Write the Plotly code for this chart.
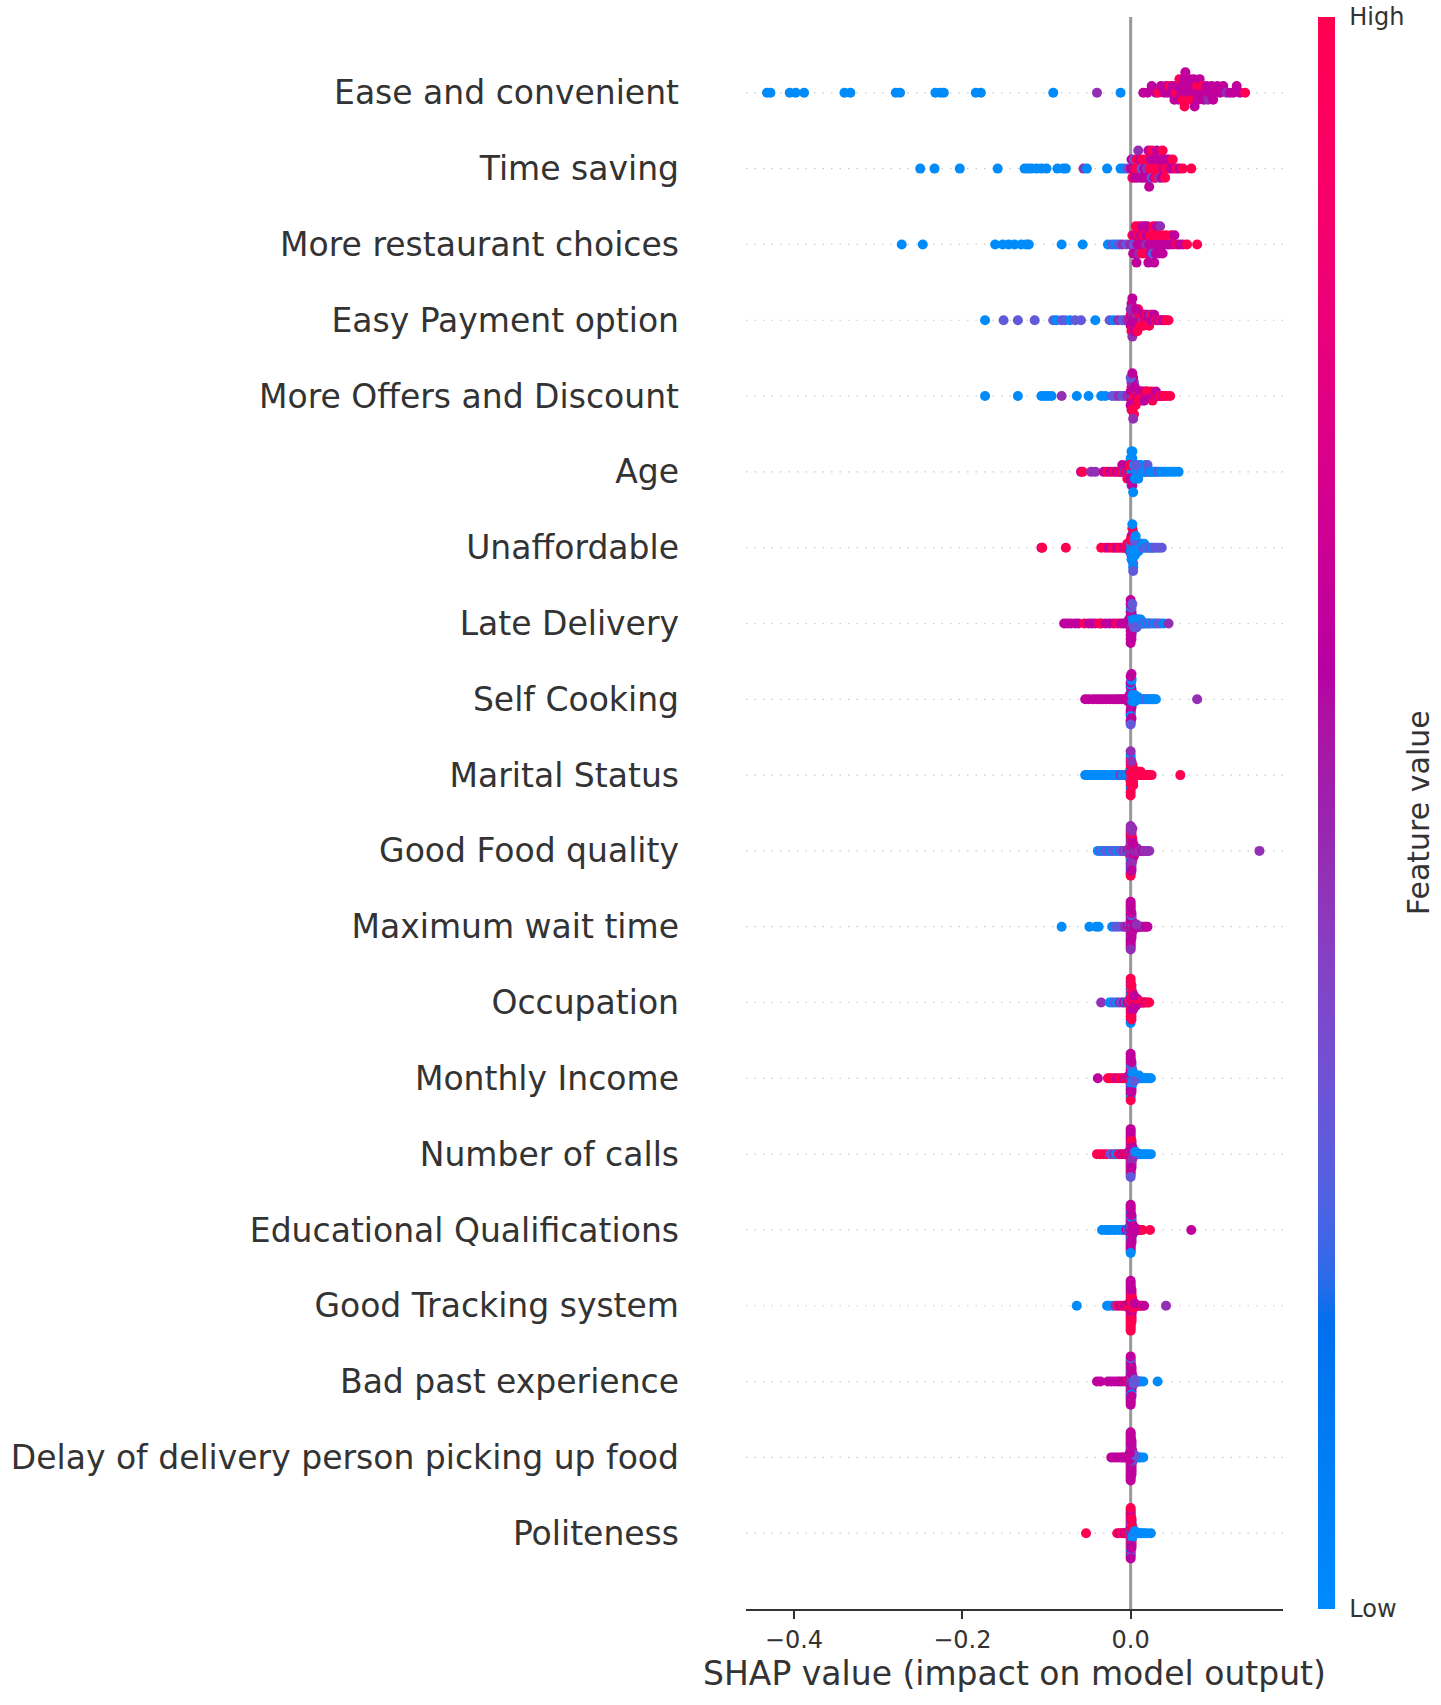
import numpy as np
import plotly.graph_objects as go

# feature names, top (most important) to bottom
features = [
    "Ease and convenient", "Time saving", "More restaurant choices",
    "Easy Payment option", "More Offers and Discount", "Age", "Unaffordable",
    "Late Delivery", "Self Cooking", "Marital Status", "Good Food quality",
    "Maximum wait time", "Occupation", "Monthly Income", "Number of calls",
    "Educational Qualifications", "Good Tracking system", "Bad past experience",
    "Delay of delivery person picking up food", "Politeness",
]

# (shap value, feature level 1=low .. 5=high)
ease = [(-0.432, 1), (-0.428, 1), (-0.405, 1), (-0.398, 1), (-0.388, 1), (-0.340, 1), (-0.333, 1),
        (-0.279, 1), (-0.274, 1), (-0.232, 1), (-0.226, 1), (-0.222, 1), (-0.184, 1), (-0.178, 1),
        (-0.092, 1), (-0.040, 3), (-0.012, 1),
        (0.015, 4), (0.020, 4), (0.025, 4), (0.030, 4), (0.033, 5), (0.036, 4), (0.040, 4),
        (0.042, 4), (0.044, 4), (0.046, 5), (0.048, 4), (0.050, 4), (0.052, 4), (0.054, 5),
        (0.055, 4), (0.057, 4), (0.058, 5), (0.060, 4), (0.061, 4), (0.062, 5), (0.063, 4),
        (0.064, 5), (0.065, 4), (0.066, 4), (0.067, 4), (0.068, 5), (0.070, 4), (0.071, 4),
        (0.072, 4), (0.074, 5), (0.075, 4), (0.076, 4), (0.078, 4), (0.079, 5), (0.080, 4),
        (0.082, 4), (0.083, 4), (0.085, 5), (0.087, 4), (0.088, 4), (0.090, 4), (0.092, 3),
        (0.094, 4), (0.096, 4), (0.098, 4), (0.100, 4), (0.103, 4), (0.106, 4), (0.110, 4),
        (0.114, 3), (0.118, 4), (0.122, 4), (0.126, 4), (0.130, 4), (0.136, 5)]

time_saving = [(-0.250, 1), (-0.233, 1), (-0.203, 1), (-0.158, 1), (-0.126, 1), (-0.122, 1),
               (-0.118, 1), (-0.112, 1), (-0.106, 1), (-0.100, 1), (-0.087, 1), (-0.080, 1),
               (-0.077, 1), (-0.056, 3), (-0.052, 1), (-0.028, 1), (-0.012, 1), (-0.008, 1),
               (-0.004, 2), (0.000, 4), (0.001, 4), (0.002, 5), (0.003, 4), (0.004, 2),
               (0.005, 4), (0.006, 5), (0.007, 5), (0.008, 4), (0.009, 3), (0.010, 5),
               (0.011, 4), (0.012, 4), (0.013, 2), (0.014, 5), (0.015, 4), (0.016, 4),
               (0.017, 5), (0.018, 4), (0.019, 3), (0.020, 5), (0.020, 4), (0.021, 4),
               (0.022, 4), (0.023, 5), (0.024, 4), (0.025, 2), (0.025, 5), (0.026, 5),
               (0.027, 4), (0.028, 4), (0.029, 5), (0.030, 4), (0.030, 5), (0.031, 4),
               (0.032, 5), (0.033, 4), (0.034, 3), (0.035, 5), (0.036, 4), (0.037, 4),
               (0.038, 5), (0.039, 4), (0.040, 4), (0.041, 5), (0.042, 5), (0.043, 4),
               (0.045, 5), (0.046, 4), (0.048, 4), (0.050, 5), (0.052, 4), (0.055, 5),
               (0.058, 4), (0.062, 5), (0.072, 5)]

restaurant_choices = [(-0.272, 1), (-0.247, 1), (-0.161, 1), (-0.152, 1), (-0.145, 1),
                      (-0.138, 1), (-0.130, 1), (-0.124, 1), (-0.121, 1), (-0.082, 1),
                      (-0.057, 1), (-0.027, 1), (-0.022, 2), (-0.018, 1), (-0.014, 2),
                      (-0.010, 3), (-0.005, 2), (0.000, 4), (0.001, 3), (0.002, 5),
                      (0.003, 4), (0.004, 2), (0.005, 4), (0.005, 4), (0.006, 5), (0.007, 4),
                      (0.008, 4), (0.009, 5), (0.010, 3), (0.010, 5), (0.011, 4), (0.012, 4),
                      (0.013, 5), (0.014, 4), (0.015, 4), (0.015, 5), (0.016, 5), (0.017, 4),
                      (0.018, 3), (0.019, 4), (0.020, 5), (0.020, 4), (0.021, 4), (0.022, 4),
                      (0.023, 5), (0.024, 4), (0.025, 4), (0.025, 5), (0.026, 2), (0.027, 5),
                      (0.028, 4), (0.029, 4), (0.030, 5), (0.030, 4), (0.031, 4), (0.032, 4),
                      (0.033, 5), (0.034, 4), (0.035, 3), (0.036, 4), (0.037, 5), (0.038, 4),
                      (0.040, 4), (0.042, 5), (0.044, 4), (0.046, 4), (0.048, 5), (0.050, 4),
                      (0.052, 4), (0.055, 5), (0.058, 4), (0.062, 4), (0.067, 5), (0.079, 5)]

easy_payment = [(-0.173, 1), (-0.151, 2), (-0.134, 2), (-0.114, 2), (-0.092, 2), (-0.088, 1),
                (-0.082, 2), (-0.078, 2), (-0.072, 1), (-0.066, 2), (-0.059, 2), (-0.042, 1),
                (-0.025, 2), (-0.020, 1), (-0.015, 3), (-0.010, 2), (-0.007, 2), (-0.004, 3),
                (0.000, 4), (0.000, 5), (0.001, 3), (0.001, 4), (0.002, 5), (0.002, 4),
                (0.003, 4), (0.003, 3), (0.004, 5), (0.005, 4), (0.005, 4), (0.006, 5),
                (0.007, 4), (0.007, 3), (0.008, 4), (0.009, 5), (0.010, 4), (0.010, 5),
                (0.011, 4), (0.012, 4), (0.013, 5), (0.014, 3), (0.015, 4), (0.016, 5),
                (0.017, 4), (0.018, 4), (0.019, 5), (0.020, 4), (0.021, 4), (0.022, 5),
                (0.023, 4), (0.024, 3), (0.025, 4), (0.026, 5), (0.027, 4), (0.028, 4),
                (0.030, 5), (0.032, 4), (0.034, 4), (0.036, 5), (0.038, 4), (0.040, 4),
                (0.042, 5), (0.045, 5),
                (0.000, 4), (0.001, 5), (0.001, 4), (0.002, 3), (0.003, 5), (0.004, 4),
                (0.000, 3), (0.002, 4), (0.006, 4), (0.008, 5), (0.012, 5), (0.015, 5)]

offers_discount = [(-0.173, 1), (-0.134, 1), (-0.106, 1), (-0.102, 1), (-0.098, 1), (-0.094, 1),
                   (-0.082, 3), (-0.064, 1), (-0.050, 1), (-0.035, 1), (-0.030, 1), (-0.022, 2),
                   (-0.018, 2), (-0.014, 3), (-0.010, 2), (-0.007, 2), (-0.004, 3), (0.000, 3),
                   (0.000, 4), (0.001, 4), (0.001, 5), (0.002, 3), (0.002, 4), (0.003, 5),
                   (0.003, 4), (0.004, 4), (0.004, 2), (0.005, 5), (0.005, 4), (0.006, 4),
                   (0.007, 5), (0.008, 3), (0.009, 4), (0.010, 5), (0.011, 4), (0.012, 4),
                   (0.013, 5), (0.014, 4), (0.015, 3), (0.016, 5), (0.017, 4), (0.018, 4),
                   (0.019, 5), (0.020, 4), (0.020, 5), (0.022, 5), (0.024, 4), (0.025, 5),
                   (0.026, 5), (0.028, 4), (0.030, 5), (0.030, 4), (0.032, 4), (0.034, 5),
                   (0.036, 5), (0.038, 4), (0.040, 5), (0.043, 5), (0.047, 5),
                   (0.000, 4), (0.001, 3), (0.001, 4), (0.002, 5), (0.003, 4), (0.004, 5),
                   (0.005, 4), (0.006, 5), (0.007, 4), (0.000, 2), (0.002, 4), (0.003, 3),
                   (0.009, 5), (0.011, 5), (0.016, 4)]

age = [(-0.059, 4), (-0.057, 5), (-0.047, 3), (-0.042, 3), (-0.032, 4), (-0.028, 5), (-0.024, 4),
       (-0.020, 5), (-0.017, 4), (-0.014, 5), (-0.012, 4), (-0.010, 5), (-0.010, 4), (-0.008, 3),
       (-0.006, 4), (-0.005, 5), (-0.004, 4), (-0.004, 5), (-0.003, 5), (-0.002, 3), (-0.001, 4),
       (0.000, 5), (0.000, 2), (0.001, 1), (0.001, 3), (0.002, 1), (0.003, 1), (0.003, 2),
       (0.004, 2), (0.005, 1), (0.005, 3), (0.006, 1), (0.007, 1), (0.008, 2), (0.008, 1),
       (0.009, 1), (0.010, 1), (0.011, 1), (0.012, 2), (0.012, 1), (0.013, 1), (0.014, 1),
       (0.015, 1), (0.016, 2), (0.017, 1), (0.018, 1), (0.020, 1), (0.020, 2), (0.022, 2),
       (0.024, 1), (0.026, 1), (0.028, 1), (0.030, 1), (0.033, 2), (0.036, 1), (0.040, 1),
       (0.044, 1), (0.048, 1), (0.052, 1), (0.057, 1),
       (0.000, 4), (0.000, 1), (0.001, 5), (0.001, 1), (0.001, 2), (0.002, 1), (0.002, 4),
       (0.002, 1), (0.001, 1), (-0.001, 5), (-0.001, 4), (0.003, 1), (0.004, 1), (0.006, 2),
       (0.009, 1), (0.005, 1)]

unaffordable = [(-0.106, 4), (-0.105, 5), (-0.077, 5), (-0.035, 5), (-0.030, 5), (-0.026, 4),
                (-0.022, 5), (-0.019, 5), (-0.016, 4), (-0.013, 5), (-0.010, 5), (-0.008, 4),
                (-0.006, 5), (-0.005, 5), (-0.004, 5), (-0.003, 4), (-0.002, 5), (-0.001, 5),
                (-0.001, 4), (0.000, 4), (0.000, 2), (0.000, 1), (0.001, 1), (0.001, 2),
                (0.001, 1), (0.002, 1), (0.002, 2), (0.003, 1), (0.003, 1), (0.004, 2),
                (0.004, 1), (0.005, 1), (0.005, 2), (0.006, 2), (0.006, 1), (0.007, 1),
                (0.007, 1), (0.008, 1), (0.009, 2), (0.009, 1), (0.010, 1), (0.010, 2),
                (0.011, 2), (0.012, 1), (0.013, 1), (0.014, 1), (0.015, 2), (0.016, 1),
                (0.018, 2), (0.020, 1), (0.022, 2), (0.024, 2), (0.026, 1), (0.028, 2),
                (0.031, 2), (0.034, 2), (0.037, 2),
                (0.001, 1), (0.001, 2), (0.002, 1), (0.002, 1), (0.002, 2), (0.003, 1),
                (0.003, 2), (0.001, 4), (0.000, 5), (0.002, 5), (0.003, 1), (0.004, 1),
                (0.002, 1), (0.001, 1), (0.005, 1), (0.003, 2), (0.004, 2), (0.006, 1)]

late_delivery = [(-0.079, 4), (-0.075, 4), (-0.071, 4), (-0.066, 4), (-0.062, 4), (-0.055, 5),
                 (-0.050, 4), (-0.046, 4), (-0.042, 4), (-0.037, 5), (-0.035, 5), (-0.030, 4),
                 (-0.025, 4), (-0.020, 4), (-0.016, 5), (-0.012, 4), (-0.009, 4), (-0.006, 4),
                 (-0.004, 4), (-0.003, 4), (-0.002, 4), (-0.002, 4), (-0.001, 4), (-0.001, 4),
                 (0.000, 4), (0.000, 4), (0.000, 4), (0.000, 4), (0.001, 4), (0.001, 4),
                 (0.001, 3), (0.002, 1), (0.002, 2), (0.003, 2), (0.004, 1), (0.004, 2),
                 (0.005, 2), (0.006, 1), (0.006, 1), (0.007, 2), (0.008, 1), (0.008, 2),
                 (0.009, 2), (0.010, 1), (0.010, 2), (0.011, 2), (0.012, 1), (0.013, 1),
                 (0.014, 2), (0.015, 1), (0.017, 2), (0.019, 1), (0.021, 2), (0.023, 1),
                 (0.026, 2), (0.029, 1), (0.032, 2), (0.035, 2), (0.039, 1), (0.045, 3),
                 (0.000, 4), (0.000, 4), (0.000, 4), (0.000, 1), (0.000, 4), (0.001, 4),
                 (0.001, 4), (0.001, 2), (0.000, 4), (0.000, 4), (0.001, 4), (0.000, 4),
                 (0.002, 2), (0.003, 1), (0.004, 2)]

self_cooking = [(-0.054, 4), (-0.050, 4), (-0.045, 4), (-0.041, 4), (-0.037, 4), (-0.033, 4),
                (-0.029, 4), (-0.025, 4), (-0.021, 4), (-0.017, 4), (-0.014, 4), (-0.011, 4),
                (-0.008, 4), (-0.006, 4), (-0.004, 4), (-0.003, 4), (-0.003, 4), (-0.002, 4),
                (-0.002, 4), (-0.001, 4), (-0.001, 4), (-0.001, 4), (0.000, 4), (0.000, 4),
                (0.000, 4), (0.000, 3), (0.000, 4), (0.000, 1), (0.001, 4), (0.001, 1),
                (0.001, 4), (0.001, 4), (0.002, 1), (0.002, 4), (0.002, 1), (0.003, 1),
                (0.003, 2), (0.004, 1), (0.004, 2), (0.005, 1), (0.005, 1), (0.006, 2),
                (0.007, 1), (0.008, 1), (0.009, 1), (0.010, 2), (0.012, 1), (0.014, 1),
                (0.016, 1), (0.018, 2), (0.020, 1), (0.022, 1), (0.024, 1), (0.026, 1),
                (0.028, 1), (0.030, 1), (0.079, 3),
                (0.000, 4), (0.000, 4), (0.000, 4), (0.000, 1), (0.000, 4), (0.000, 4),
                (0.000, 1), (0.001, 1), (0.001, 4), (0.001, 1), (0.000, 4), (0.000, 4),
                (-0.001, 4), (0.000, 4), (0.001, 4), (0.002, 1), (0.003, 1), (0.000, 2)]

marital_status = [(-0.054, 1), (-0.051, 1), (-0.048, 1), (-0.045, 1), (-0.042, 1), (-0.039, 1),
                  (-0.036, 1), (-0.033, 1), (-0.030, 1), (-0.027, 1), (-0.024, 1), (-0.021, 1),
                  (-0.018, 1), (-0.015, 1), (-0.012, 3), (-0.010, 1), (-0.008, 1), (-0.006, 3),
                  (-0.005, 1), (-0.004, 1), (-0.003, 1), (-0.002, 1), (-0.001, 1), (-0.001, 5),
                  (-0.001, 1), (0.000, 1), (0.000, 5), (0.000, 5), (0.000, 1), (0.000, 5),
                  (0.001, 5), (0.001, 5), (0.001, 1), (0.001, 5), (0.002, 5), (0.002, 5),
                  (0.002, 5), (0.003, 5), (0.003, 5), (0.004, 5), (0.004, 5), (0.005, 5),
                  (0.005, 5), (0.006, 5), (0.006, 5), (0.007, 5), (0.008, 5), (0.008, 5),
                  (0.009, 5), (0.010, 5), (0.010, 5), (0.011, 5), (0.012, 5), (0.014, 5),
                  (0.016, 5), (0.018, 5), (0.020, 5), (0.022, 5), (0.025, 5), (0.059, 5),
                  (0.000, 5), (0.000, 5), (0.000, 5), (0.000, 1), (0.000, 5), (0.001, 5),
                  (0.001, 5), (0.000, 5), (0.000, 1), (0.001, 5), (0.000, 5), (0.002, 5),
                  (0.003, 5), (0.001, 3), (0.000, 3)]

food_quality = [(-0.039, 1), (-0.036, 2), (-0.033, 1), (-0.030, 2), (-0.027, 2), (-0.024, 1),
                (-0.021, 2), (-0.018, 2), (-0.015, 1), (-0.012, 2), (-0.010, 2), (-0.008, 3),
                (-0.006, 2), (-0.004, 3), (-0.003, 4), (-0.002, 3), (-0.002, 2), (-0.001, 5),
                (-0.001, 3), (-0.001, 3), (0.000, 3), (0.000, 4), (0.000, 3), (0.000, 5),
                (0.000, 3), (0.000, 1), (0.000, 3), (0.001, 3), (0.001, 4), (0.001, 3),
                (0.001, 5), (0.001, 3), (0.001, 3), (0.002, 3), (0.002, 4), (0.002, 3),
                (0.002, 5), (0.003, 3), (0.003, 4), (0.003, 3), (0.004, 3), (0.004, 4),
                (0.005, 3), (0.006, 4), (0.007, 3), (0.008, 3), (0.009, 4), (0.010, 3),
                (0.012, 3), (0.014, 4), (0.016, 3), (0.018, 3), (0.020, 3), (0.022, 3),
                (0.153, 3),
                (0.000, 3), (0.000, 5), (0.000, 3), (0.000, 4), (0.000, 3), (0.000, 5),
                (0.001, 3), (0.001, 4), (0.001, 3), (0.001, 5), (0.000, 1), (0.000, 3),
                (0.001, 3), (0.000, 4), (0.000, 3), (0.001, 3), (0.000, 5), (0.001, 4),
                (0.002, 3), (0.003, 4)]

wait_time = [(-0.082, 1), (-0.049, 1), (-0.041, 1), (-0.038, 1), (-0.022, 1), (-0.018, 2),
             (-0.014, 2), (-0.010, 2), (-0.007, 3), (-0.005, 3), (-0.003, 4), (-0.002, 3),
             (-0.001, 4), (-0.001, 2), (0.000, 4), (0.000, 3), (0.000, 4), (0.000, 4),
             (0.000, 2), (0.000, 4), (0.001, 4), (0.001, 3), (0.001, 4), (0.001, 4),
             (0.001, 5), (0.002, 4), (0.002, 3), (0.002, 4), (0.002, 4), (0.003, 4),
             (0.003, 2), (0.004, 4), (0.004, 3), (0.005, 3), (0.006, 4), (0.006, 4),
             (0.007, 4), (0.008, 3), (0.009, 4), (0.010, 4), (0.011, 2), (0.012, 4),
             (0.014, 4), (0.016, 3), (0.018, 4), (0.020, 4),
             (0.000, 4), (0.000, 3), (0.000, 4), (0.000, 4), (0.000, 2), (0.000, 4),
             (0.001, 4), (0.001, 3), (0.001, 4), (0.000, 4), (0.000, 5), (0.000, 4),
             (0.001, 4), (0.000, 3), (0.000, 4), (0.000, 4), (0.001, 2), (0.000, 4),
             (0.001, 4), (0.000, 4), (0.000, 3), (0.001, 4), (0.000, 4), (0.002, 4),
             (0.003, 3), (0.004, 4), (0.005, 4), (0.007, 3)]

occupation = [(-0.035, 3), (-0.025, 1), (-0.022, 1), (-0.019, 2), (-0.016, 1), (-0.013, 3),
              (-0.010, 2), (-0.008, 4), (-0.006, 1), (-0.004, 4), (-0.003, 5), (-0.002, 4),
              (-0.001, 5), (-0.001, 1), (0.000, 1), (0.000, 5), (0.000, 4), (0.000, 5),
              (0.001, 5), (0.001, 4), (0.001, 1), (0.001, 3), (0.002, 5), (0.002, 5),
              (0.002, 4), (0.003, 5), (0.003, 4), (0.003, 5), (0.004, 5), (0.004, 5),
              (0.005, 4), (0.005, 5), (0.006, 5), (0.006, 5), (0.007, 4), (0.008, 5),
              (0.008, 4), (0.009, 5), (0.010, 4), (0.011, 5), (0.012, 5), (0.013, 4),
              (0.014, 5), (0.015, 5), (0.016, 5), (0.018, 4), (0.020, 5), (0.022, 5),
              (0.000, 5), (0.000, 1), (0.000, 5), (0.000, 4), (0.000, 5), (0.001, 5),
              (0.001, 5), (0.001, 4), (0.000, 5), (0.000, 5), (0.001, 1), (0.000, 4),
              (0.001, 5), (0.002, 5), (0.002, 4), (0.003, 5), (0.004, 5), (0.005, 5),
              (0.006, 4), (0.007, 5), (0.000, 1), (0.001, 5), (0.002, 5), (0.003, 4),
              (0.004, 4), (0.000, 5), (0.001, 5)]

monthly_income = [(-0.039, 4), (-0.027, 5), (-0.025, 5), (-0.022, 5), (-0.019, 5), (-0.016, 4),
                  (-0.013, 5), (-0.010, 5), (-0.008, 4), (-0.006, 5), (-0.004, 4), (-0.003, 5),
                  (-0.002, 4), (-0.002, 4), (-0.001, 5), (-0.001, 4), (0.000, 4), (0.000, 5),
                  (0.000, 4), (0.000, 2), (0.000, 5), (0.001, 1), (0.001, 4), (0.001, 5),
                  (0.002, 1), (0.002, 4), (0.002, 5), (0.003, 1), (0.003, 4), (0.004, 1),
                  (0.004, 1), (0.005, 2), (0.006, 1), (0.006, 1), (0.007, 1), (0.008, 1),
                  (0.009, 2), (0.010, 1), (0.010, 1), (0.011, 1), (0.012, 1), (0.014, 1),
                  (0.016, 1), (0.018, 1), (0.020, 1), (0.022, 1), (0.024, 1),
                  (0.000, 4), (0.000, 4), (0.000, 5), (0.000, 4), (0.000, 2), (0.001, 4),
                  (0.001, 1), (0.001, 4), (0.000, 4), (0.000, 5), (0.001, 1), (0.000, 4),
                  (0.001, 2), (0.000, 4), (0.000, 1), (0.001, 4), (0.002, 1), (0.000, 4),
                  (0.001, 1), (0.002, 1), (0.003, 1), (0.000, 5), (0.001, 4), (0.002, 2),
                  (0.000, 4), (0.001, 4), (0.003, 1), (0.004, 2)]

number_of_calls = [(-0.040, 5), (-0.036, 5), (-0.032, 5), (-0.028, 5), (-0.024, 2), (-0.020, 3),
                   (-0.017, 1), (-0.014, 5), (-0.011, 4), (-0.008, 5), (-0.006, 4), (-0.004, 5),
                   (-0.003, 4), (-0.002, 5), (-0.002, 4), (-0.001, 4), (-0.001, 5), (0.000, 5),
                   (0.000, 4), (0.000, 3), (0.000, 5), (0.000, 4), (0.000, 3), (0.001, 5),
                   (0.001, 3), (0.001, 4), (0.001, 4), (0.002, 4), (0.002, 5), (0.002, 3),
                   (0.003, 3), (0.003, 4), (0.003, 5), (0.004, 2), (0.005, 4), (0.006, 3),
                   (0.007, 1), (0.009, 2), (0.011, 1), (0.014, 1), (0.017, 1), (0.020, 1),
                   (0.024, 1),
                   (0.000, 4), (0.000, 5), (0.000, 4), (0.000, 3), (0.000, 4), (0.001, 5),
                   (0.001, 4), (0.001, 3), (0.000, 5), (0.000, 4), (0.001, 4), (0.000, 4),
                   (0.001, 5), (0.000, 3), (0.000, 4), (0.001, 4), (0.000, 5), (0.002, 4),
                   (0.000, 4), (0.001, 3), (0.000, 4), (0.001, 5), (0.002, 3), (0.000, 4),
                   (0.001, 4), (0.003, 4), (0.004, 3), (0.002, 4), (0.000, 2), (0.005, 2),
                   (0.006, 1), (0.000, 4)]

education = [(-0.034, 1), (-0.030, 1), (-0.027, 1), (-0.024, 1), (-0.020, 1), (-0.017, 1),
             (-0.013, 1), (-0.010, 1), (-0.007, 1), (-0.005, 4), (-0.003, 1), (-0.002, 4),
             (-0.002, 1), (-0.001, 1), (-0.001, 4), (0.000, 4), (0.000, 1), (0.000, 4),
             (0.000, 4), (0.000, 1), (0.000, 4), (0.001, 4), (0.001, 4), (0.001, 4),
             (0.001, 1), (0.002, 4), (0.002, 1), (0.002, 4), (0.003, 4), (0.003, 4),
             (0.003, 1), (0.004, 4), (0.004, 4), (0.005, 4), (0.006, 4), (0.007, 4),
             (0.008, 4), (0.010, 4), (0.012, 4), (0.014, 5), (0.023, 5), (0.072, 4),
             (0.000, 4), (0.000, 4), (0.000, 1), (0.000, 4), (0.001, 4), (0.001, 1),
             (0.000, 4), (0.000, 4), (0.001, 4), (0.000, 1), (0.000, 4), (0.001, 4),
             (0.000, 4), (0.001, 1), (0.000, 4), (0.000, 4), (0.001, 4), (0.000, 1),
             (0.000, 4), (0.002, 4), (0.001, 4), (0.000, 4), (0.001, 1), (0.000, 4),
             (0.002, 4), (0.000, 4), (0.003, 4), (0.004, 4), (0.001, 4), (0.000, 1),
             (0.005, 4), (0.000, 4), (0.001, 4)]

tracking_system = [(-0.064, 1), (-0.028, 1), (-0.025, 1), (-0.021, 1), (-0.018, 3), (-0.015, 5),
                   (-0.012, 4), (-0.009, 5), (-0.007, 4), (-0.005, 5), (-0.004, 4), (-0.003, 5),
                   (-0.002, 4), (-0.002, 5), (-0.001, 5), (-0.001, 4), (0.000, 5), (0.000, 4),
                   (0.000, 5), (0.000, 4), (0.000, 3), (0.001, 5), (0.001, 4), (0.001, 5),
                   (0.001, 4), (0.002, 4), (0.002, 5), (0.002, 5), (0.003, 4), (0.003, 5),
                   (0.004, 4), (0.005, 5), (0.006, 4), (0.007, 5), (0.008, 4), (0.010, 5),
                   (0.012, 4), (0.014, 5), (0.016, 4), (0.042, 3),
                   (0.000, 5), (0.000, 4), (0.000, 5), (0.000, 5), (0.000, 4), (0.001, 5),
                   (0.001, 4), (0.001, 5), (0.000, 5), (0.000, 4), (0.001, 5), (0.000, 5),
                   (0.001, 4), (0.000, 3), (0.000, 5), (0.001, 5), (0.000, 4), (0.002, 5),
                   (0.000, 5), (0.001, 4), (0.000, 4), (0.001, 5), (0.002, 4), (0.000, 5),
                   (0.001, 5), (0.003, 5), (0.000, 4), (0.004, 5), (0.001, 4), (0.000, 5),
                   (0.002, 5), (0.000, 4), (0.001, 5), (0.000, 5), (0.005, 4)]

bad_experience = [(-0.040, 4), (-0.036, 4), (-0.027, 4), (-0.023, 4), (-0.019, 4), (-0.015, 4),
                  (-0.012, 4), (-0.009, 4), (-0.006, 4), (-0.004, 5), (-0.003, 4), (-0.002, 4),
                  (-0.002, 5), (-0.001, 4), (-0.001, 4), (0.000, 4), (0.000, 3), (0.000, 2),
                  (0.000, 4), (0.000, 4), (0.001, 4), (0.001, 2), (0.001, 3), (0.001, 4),
                  (0.002, 1), (0.002, 4), (0.002, 3), (0.003, 2), (0.003, 4), (0.004, 1),
                  (0.004, 2), (0.005, 3), (0.006, 2), (0.007, 1), (0.008, 2), (0.010, 1),
                  (0.012, 2), (0.015, 1), (0.032, 1),
                  (0.000, 4), (0.000, 2), (0.000, 4), (0.000, 4), (0.000, 3), (0.001, 4),
                  (0.001, 2), (0.001, 4), (0.000, 4), (0.000, 1), (0.001, 4), (0.000, 4),
                  (0.001, 3), (0.000, 4), (0.000, 2), (0.001, 4), (0.000, 4), (0.002, 2),
                  (0.000, 4), (0.001, 4), (0.000, 3), (0.001, 4), (0.002, 4), (0.000, 4),
                  (0.001, 1), (0.003, 3), (0.000, 4), (0.004, 2), (0.001, 4), (0.000, 4),
                  (0.002, 4), (0.000, 2), (0.001, 4), (0.000, 4), (0.005, 2), (0.000, 4)]

delay_pickup = [(-0.023, 4), (-0.020, 4), (-0.017, 4), (-0.014, 4), (-0.011, 4), (-0.009, 4),
                (-0.007, 4), (-0.005, 4), (-0.004, 4), (-0.003, 4), (-0.002, 4), (-0.002, 4),
                (-0.001, 4), (-0.001, 4), (0.000, 4), (0.000, 4), (0.000, 3), (0.000, 4),
                (0.000, 2), (0.000, 4), (0.001, 4), (0.001, 4), (0.001, 3), (0.001, 4),
                (0.001, 2), (0.002, 4), (0.002, 2), (0.002, 4), (0.003, 4), (0.003, 1),
                (0.004, 2), (0.005, 1), (0.006, 2), (0.008, 1), (0.010, 1), (0.012, 1),
                (0.015, 1),
                (0.000, 4), (0.000, 4), (0.000, 4), (0.000, 4), (0.000, 3), (0.001, 4),
                (0.001, 4), (0.001, 4), (0.000, 4), (0.000, 4), (0.001, 4), (0.000, 4),
                (0.001, 2), (0.000, 4), (0.000, 4), (0.001, 4), (0.000, 4), (0.002, 4),
                (0.000, 4), (0.001, 4), (0.000, 4), (0.001, 4), (0.002, 3), (0.000, 4),
                (0.001, 4), (0.003, 2), (0.000, 4), (0.004, 1), (0.001, 4), (0.000, 4),
                (0.002, 4), (-0.001, 4), (0.001, 4), (0.000, 4), (0.005, 2), (-0.001, 4),
                (0.000, 4), (0.001, 4)]

politeness = [(-0.053, 5), (-0.016, 5), (-0.013, 4), (-0.011, 5), (-0.009, 5), (-0.007, 4),
              (-0.005, 5), (-0.004, 5), (-0.003, 4), (-0.002, 5), (-0.002, 4), (-0.001, 3),
              (-0.001, 5), (0.000, 5), (0.000, 4), (0.000, 1), (0.000, 5), (0.000, 3),
              (0.000, 5), (0.001, 5), (0.001, 1), (0.001, 4), (0.001, 5), (0.002, 1),
              (0.002, 5), (0.002, 5), (0.003, 1), (0.003, 2), (0.004, 1), (0.005, 1),
              (0.006, 3), (0.007, 1), (0.009, 1), (0.011, 1), (0.013, 1), (0.016, 1),
              (0.019, 1), (0.024, 1),
              (0.000, 5), (0.000, 4), (0.000, 1), (0.000, 5), (0.000, 4), (0.001, 5),
              (0.001, 2), (0.001, 4), (0.000, 5), (0.000, 1), (0.001, 4), (0.000, 4),
              (0.001, 5), (0.000, 3), (0.000, 4), (0.001, 1), (0.000, 5), (0.002, 4),
              (0.000, 4), (0.001, 5), (0.000, 1), (0.001, 4), (0.002, 1), (0.000, 5),
              (0.001, 4), (0.003, 1), (0.000, 4), (0.004, 2), (0.001, 5), (0.000, 4),
              (0.002, 5), (0.000, 2), (0.001, 4), (0.000, 5), (0.005, 1), (0.000, 4)]

feature_data = [ease, time_saving, restaurant_choices, easy_payment, offers_discount, age,
                unaffordable, late_delivery, self_cooking, marital_status, food_quality,
                wait_time, occupation, monthly_income, number_of_calls, education,
                tracking_system, bad_experience, delay_pickup, politeness]

xticks = [-0.4, -0.2, 0.0]

# where each answer level sits on the low -> high colour bar
level_pos = {1: 0.0, 2: 0.3, 3: 0.47, 4: 0.62, 5: 1.0}


def beeswarm(vals, row_height=0.4, nbins=100):
    # same binning / layering as the shap summary plot
    vals = np.asarray(vals, dtype=float)
    quant = np.round(nbins * (vals - vals.min()) / (vals.max() - vals.min() + 1e-8))
    inds = np.argsort(quant, kind="stable")
    ys = np.zeros(len(vals))
    layer = 0
    last_bin = -1
    for ind in inds:
        if quant[ind] != last_bin:
            layer = 0
        ys[ind] = np.ceil(layer / 2) * ((layer % 2) * 2 - 1)
        layer += 1
        last_bin = quant[ind]
    ys *= 0.9 * (row_height / np.max(ys + 1))
    return ys


def lab_to_rgb(L, a, b):
    fy = (L + 16) / 116
    fx = fy + a / 500
    fz = fy - b / 200

    def finv(t):
        return t ** 3 if t ** 3 > 0.008856 else (t - 16 / 116) / 7.787

    X, Y, Z = 0.95047 * finv(fx), finv(fy), 1.08883 * finv(fz)
    lin = [3.2406 * X - 1.5372 * Y - 0.4986 * Z,
           -0.9689 * X + 1.8758 * Y + 0.0415 * Z,
           0.0557 * X - 0.2040 * Y + 1.0570 * Z]
    out = []
    for c in lin:
        c = 1.055 * c ** (1 / 2.4) - 0.055 if c > 0.0031308 else 12.92 * c
        out.append(int(round(255 * min(max(c, 0), 1))))
    return "rgb(%d,%d,%d)" % tuple(out)


def red_blue_scale(nsteps=40):
    # shap's perceptual blue -> red map (lch interpolation)
    blue_lch = [54., 70., 4.6588]
    red_lch = [54., 90., 0.35470565 + 2 * np.pi]
    l_mid = 40.
    l_vals = list(np.linspace(blue_lch[0], l_mid, nsteps // 2)) + list(np.linspace(l_mid, red_lch[0], nsteps // 2))
    c_vals = np.linspace(blue_lch[1], red_lch[1], nsteps)
    h_vals = np.linspace(blue_lch[2], red_lch[2], nsteps)
    scale = []
    for pos, l, c, h in zip(np.linspace(0, 1, nsteps), l_vals, c_vals, h_vals):
        scale.append([float(pos), lab_to_rgb(l, c * np.cos(h), c * np.sin(h))])
    return scale


n = len(features)
xs, ys, cs = [], [], []
fig = go.Figure()

for i, pts in enumerate(feature_data):
    pos = n - 1 - i
    shap = np.array([p[0] for p in pts])
    off = beeswarm(shap)
    xs += list(shap)
    ys += list(pos + off)
    cs += [level_pos[p[1]] for p in pts]
    fig.add_shape(type="line", xref="paper", x0=0, x1=1, y0=pos, y1=pos,
                  line=dict(color="#cccccc", width=1.2, dash="1.5px,7px"), layer="below")

fig.add_shape(type="line", yref="paper", x0=0, x1=0, y0=0, y1=1,
              line=dict(color="#999999", width=3), layer="below")

fig.add_trace(go.Scatter(
    x=xs, y=ys, mode="markers", hoverinfo="skip",
    marker=dict(size=10, color=cs, colorscale=red_blue_scale(), cmin=0, cmax=1,
                line=dict(width=0), showscale=True,
                colorbar=dict(x=1.065, xanchor="left", y=0.5, yanchor="middle",
                              len=1, lenmode="fraction", thickness=17, xpad=0, ypad=0,
                              outlinewidth=0, tickvals=[0, 1], ticktext=["Low", "High"],
                              ticks="outside", ticklen=10, tickcolor="rgba(0,0,0,0)",
                              tickfont=dict(size=24, color="#333333"))),
))

fig.add_annotation(text="Feature value", xref="paper", yref="paper", x=1.288, y=0.5,
                   textangle=-90, showarrow=False, font=dict(size=30, color="#333333"))

fig.update_xaxes(range=[-0.457, 0.181], tickvals=xticks, tickformat=".1f",
                 ticks="outside", ticklen=8, tickwidth=2, tickcolor="#333333",
                 showline=True, linecolor="#333333", linewidth=2, showgrid=False,
                 zeroline=False, automargin=False, ticklabelstandoff=0,
                 tickfont=dict(size=24, color="#333333"),
                 title=dict(text="SHAP value (impact on model output)", standoff=4,
                            font=dict(size=33, color="#333333")))
fig.update_yaxes(range=[-1, n], tickvals=list(range(n)), ticktext=features[::-1],
                 showgrid=False, zeroline=False, showline=False, ticks="",
                 automargin=False, ticklabelstandoff=66,
                 tickfont=dict(size=33, color="#333333"))

fig.update_layout(
    width=1441, height=1705,
    margin=dict(l=746, r=158, t=17, b=96),
    plot_bgcolor="white", paper_bgcolor="white",
    font=dict(family="DejaVu Sans", color="#333333"),
    showlegend=False,
)

fig.write_html("out.html", config={"displayModeBar": False},
               post_script="document.body.style.margin='0';")
